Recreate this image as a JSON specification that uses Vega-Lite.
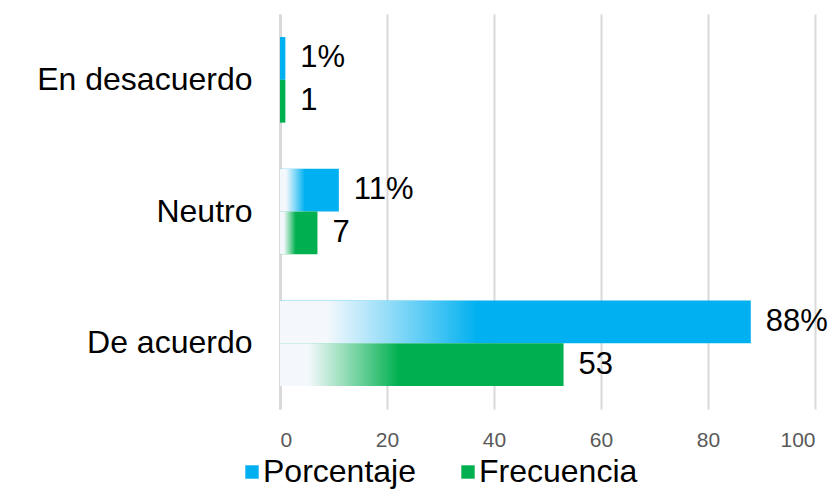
{
  "$schema": "https://vega.github.io/schema/vega-lite/v6.json",
  "autosize": {"type": "none"},
  "padding": {"left": 280, "top": 14, "right": 22, "bottom": 81},
  "width": 535,
  "height": 395,
  "background": "white",
  "config": {
    "view": {"stroke": null},
    "font": "Liberation Sans"
  },
  "data": {
    "values": [
      {"category": "En desacuerdo", "series": "Porcentaje", "value": 1, "label": "1%"},
      {"category": "En desacuerdo", "series": "Frecuencia", "value": 1, "label": "1"},
      {"category": "Neutro", "series": "Porcentaje", "value": 11, "label": "11%"},
      {"category": "Neutro", "series": "Frecuencia", "value": 7, "label": "7"},
      {"category": "De acuerdo", "series": "Porcentaje", "value": 88, "label": "88%"},
      {"category": "De acuerdo", "series": "Frecuencia", "value": 53, "label": "53"}
    ]
  },
  "encoding": {
    "y": {
      "field": "category",
      "type": "nominal",
      "sort": ["En desacuerdo", "Neutro", "De acuerdo"],
      "scale": {"paddingInner": 0.35, "paddingOuter": 0.175},
      "axis": {
        "title": null,
        "ticks": false,
        "labelFontSize": 32,
        "labelColor": "#000000",
        "labelPadding": 28,
        "labelLimit": 400,
        "domainColor": "#D9D9D9",
        "domainWidth": 3,
        "grid": false
      }
    },
    "yOffset": {
      "field": "series",
      "type": "nominal",
      "sort": ["Porcentaje", "Frecuencia"],
      "scale": {"padding": 0}
    },
    "x": {
      "field": "value",
      "type": "quantitative",
      "scale": {"domain": [0, 100], "nice": false},
      "axis": {
        "title": null,
        "values": [0, 20, 40, 60, 80, 100],
        "ticks": false,
        "domain": false,
        "grid": true,
        "gridColor": "#D9D9D9",
        "gridWidth": 2,
        "labelFontSize": 21,
        "labelColor": "#595959",
        "labelPadding": 20
      }
    }
  },
  "layer": [
    {
      "mark": {"type": "bar"},
      "encoding": {
        "color": {
          "field": "series",
          "type": "nominal",
          "scale": {"domain": ["Porcentaje", "Frecuencia"], "range": ["#00B0F0", "#00B050"]},
          "legend": {
            "title": null,
            "orient": "none",
            "direction": "horizontal",
            "legendX": -44,
            "legendY": 442,
            "symbolType": "square",
            "symbolSize": 180,
            "symbolStrokeWidth": 0,
            "labelFontSize": 32,
            "labelColor": "#000000",
            "labelOffset": -5,
            "columnPadding": 36,
            "labelLimit": 300
          }
        }
      }
    },
    {
      "transform": [{"filter": "datum.value > 1"}],
      "mark": {
        "type": "bar",
        "fill": {
          "gradient": "linear",
          "x1": 0, "y1": 0, "x2": 1, "y2": 0,
          "stops": [
            {"offset": 0, "color": "rgba(244,248,252,1)"},
            {"offset": 0.1, "color": "rgba(244,248,252,1)"},
            {"offset": 0.42, "color": "rgba(255,255,255,0)"},
            {"offset": 1, "color": "rgba(255,255,255,0)"}
          ]
        }
      }
    },
    {
      "mark": {
        "type": "text",
        "align": "left",
        "baseline": "middle",
        "dx": 15,
        "fontSize": 31,
        "color": "#000000"
      },
      "encoding": {
        "text": {"field": "label", "type": "nominal"}
      }
    }
  ]
}
